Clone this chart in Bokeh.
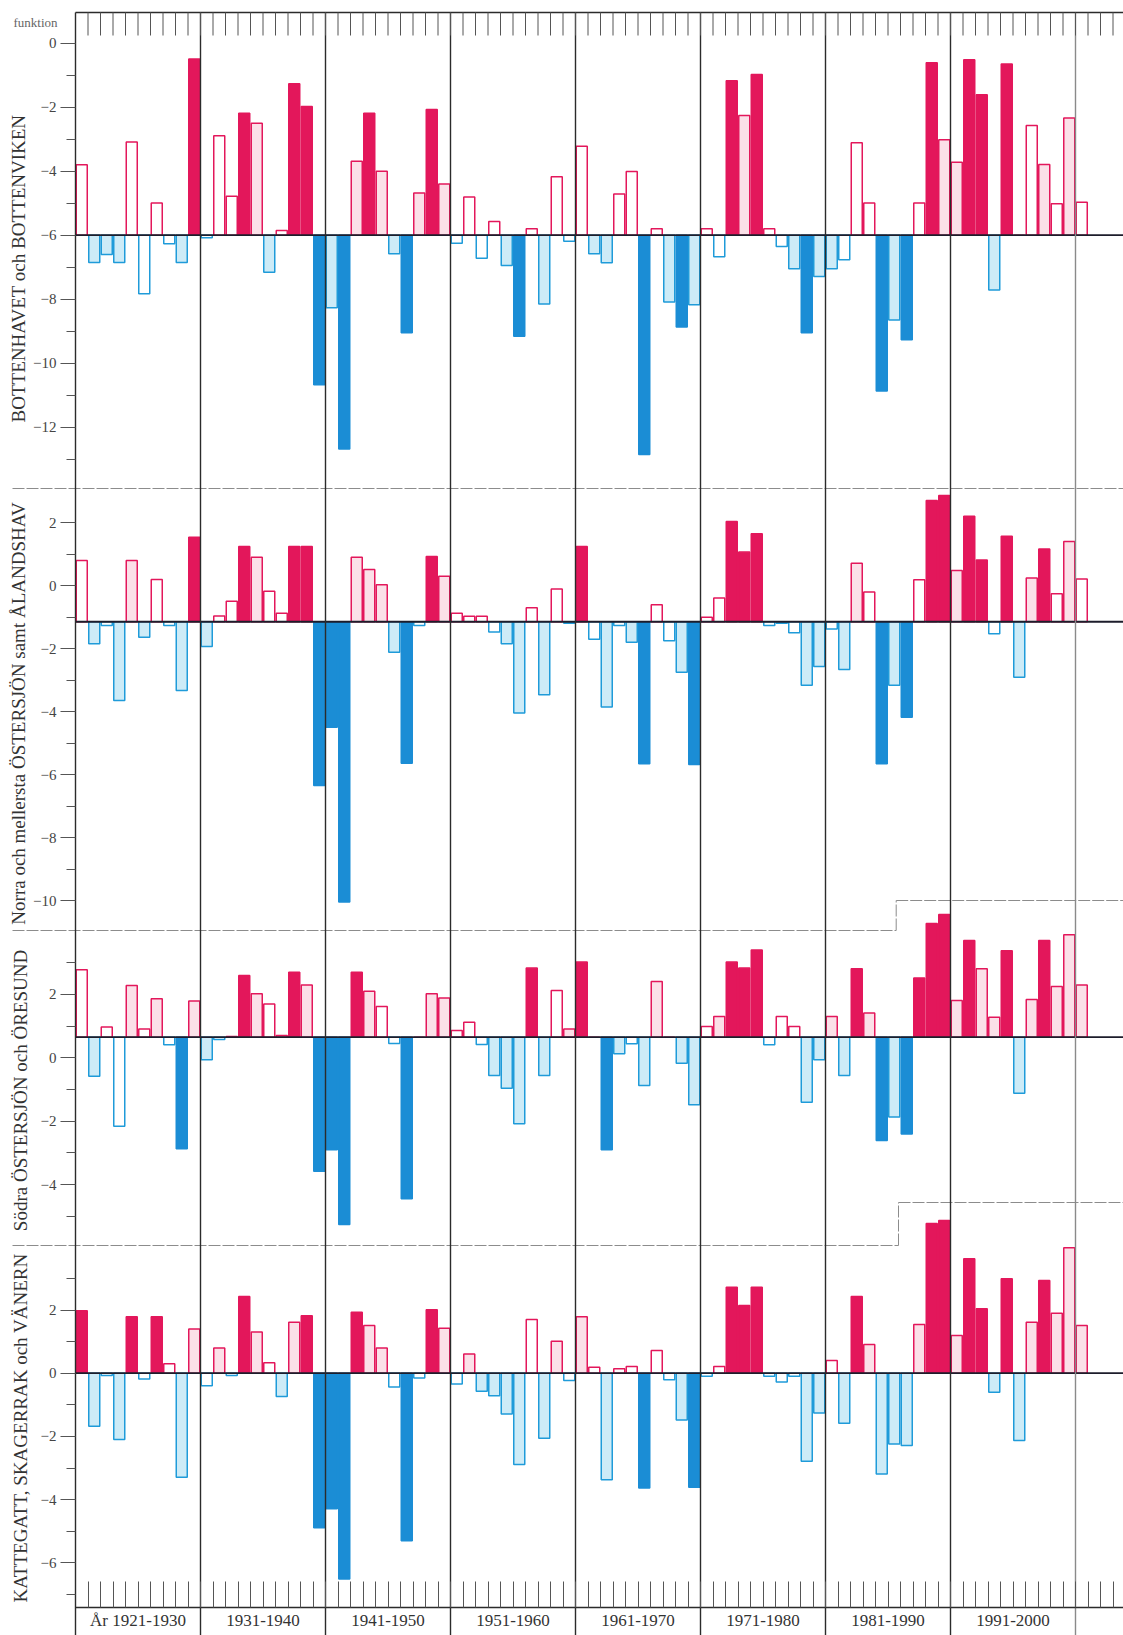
from bokeh.plotting import figure
from bokeh.models import Range1d, LinearAxis, FixedTicker, ColumnDataSource
from bokeh.core.properties import value
from bokeh.embed import file_html
from bokeh.resources import INLINE

# ---------------- data ----------------
YEARS = list(range(1921, 2002))

P1_VALUES = [-3.80, -6.85, -6.60, -6.85, -3.09, -7.83, -4.99, -6.27, -6.85, -0.49,
             -6.08, -2.89, -4.78, -2.19, -2.50, -7.16, -5.85, -1.27, -1.98, -10.67,
             -8.27, -12.68, -3.69, -2.19, -4.00, -6.58, -9.05, -4.68, -2.07, -4.40,
             -6.25, -4.81, -6.72, -5.57, -6.95, -9.16, -5.80, -8.15, -4.17, -6.19,
             -3.22, -6.58, -6.86, -4.71, -4.01, -12.85, -5.80, -8.09, -8.87, -8.17,
             -5.80, -6.67, -1.17, -2.26, -0.98, -5.80, -6.35, -7.05, -9.05, -7.29,
             -7.05, -6.77, -3.11, -4.99, -10.87, -8.65, -9.27, -4.99, -0.61, -3.02,
             -3.72, -0.52, -1.61, -7.71, -0.65, -6.00, -2.57, -3.79, -5.02, -2.34,
             -4.97]
P1_STYLE = ["o", "l", "l", "l", "o", "o", "o", "o", "l", "s",
            "o", "o", "o", "s", "l", "l", "o", "s", "s", "s",
            "l", "s", "l", "s", "l", "l", "s", "l", "s", "l",
            "o", "o", "o", "o", "l", "s", "o", "l", "o", "o",
            "o", "l", "l", "o", "o", "s", "o", "l", "s", "l",
            "o", "o", "s", "l", "s", "o", "o", "l", "s", "l",
            "l", "o", "o", "o", "s", "l", "s", "o", "s", "l",
            "l", "s", "s", "l", "s", "o", "o", "l", "o", "l",
            "o"]

P2_VALUES = [0.79, -1.85, -1.27, -3.65, 0.79, -1.64, 0.19, -1.27, -3.33, 1.53,
             -1.94, -0.97, -0.50, 1.24, 0.90, -0.18, -0.88, 1.24, 1.24, -6.35,
             -4.50, -10.05, 0.90, 0.51, 0.02, -2.12, -5.64, -1.27, 0.92, 0.29,
             -0.88, -0.98, -0.98, -1.48, -1.85, -4.05, -0.71, -3.47, -0.11, -1.20,
             1.24, -1.71, -3.86, -1.27, -1.80, -5.66, -0.61, -1.75, -2.75, -5.68,
             -1.01, -0.40, 2.03, 1.06, 1.64, -1.27, -1.20, -1.50, -3.17, -2.57,
             -1.38, -2.67, 0.71, -0.21, -5.66, -3.17, -4.18, 0.18, 2.70, 2.86,
             0.48, 2.20, 0.81, -1.53, 1.56, -2.91, 0.24, 1.16, -0.26, 1.40,
             0.21]
P2_STYLE = ["o", "l", "o", "l", "l", "l", "o", "o", "l", "s",
            "l", "o", "o", "s", "l", "o", "o", "s", "s", "s",
            "s", "s", "l", "l", "l", "l", "s", "o", "s", "l",
            "o", "o", "o", "o", "l", "l", "o", "l", "o", "o",
            "s", "o", "l", "o", "l", "s", "o", "o", "l", "s",
            "o", "o", "s", "s", "s", "o", "o", "o", "l", "l",
            "o", "l", "l", "o", "s", "l", "s", "o", "s", "s",
            "l", "s", "s", "o", "s", "l", "l", "s", "o", "l",
            "o"]

P3_VALUES = [2.78, -0.58, 0.97, -2.16, 2.28, 0.91, 1.86, 0.41, -2.87, 1.79,
             -0.06, 0.58, 0.67, 2.60, 2.02, 1.70, 0.70, 2.70, 2.30, -3.58,
             -2.90, -5.26, 2.70, 2.10, 1.62, 0.45, -4.45, 0.65, 2.02, 1.89,
             0.86, 1.12, 0.42, -0.56, -0.96, -2.08, 2.83, -0.56, 2.12, 0.91,
             3.02, 0.65, -2.90, 0.13, 0.44, -0.87, 2.41, 0.65, -0.17, -1.48,
             0.99, 1.30, 3.02, 2.83, 3.40, 0.41, 1.30, 0.99, -1.40, -0.06,
             1.30, -0.56, 2.81, 1.41, -2.61, -1.87, -2.40, 2.52, 4.24, 4.52,
             1.81, 3.70, 2.81, 1.28, 3.38, -1.12, 1.84, 3.70, 2.25, 3.88,
             2.30]
P3_STYLE = ["o", "l", "o", "o", "l", "o", "l", "o", "s", "l",
            "l", "o", "o", "s", "l", "o", "o", "s", "l", "s",
            "s", "s", "s", "l", "o", "o", "s", "o", "l", "l",
            "o", "o", "o", "l", "l", "l", "s", "l", "o", "l",
            "s", "o", "s", "l", "o", "l", "l", "o", "l", "l",
            "o", "l", "s", "s", "s", "o", "o", "o", "l", "l",
            "l", "l", "s", "l", "s", "l", "s", "s", "s", "s",
            "l", "s", "l", "l", "s", "l", "l", "s", "l", "l",
            "l"]

P4_VALUES = [1.98, -1.68, -0.07, -2.10, 1.79, -0.18, 1.79, 0.30, -3.29, 1.40,
             -0.40, 0.80, -0.07, 2.43, 1.30, 0.33, -0.74, 1.61, 1.82, -4.89,
             -4.29, -6.51, 1.93, 1.51, 0.80, -0.44, -5.30, -0.15, 2.01, 1.42,
             -0.34, 0.61, -0.57, -0.71, -1.29, -2.89, 1.70, -2.06, 1.01, -0.23,
             1.79, 0.19, -3.37, 0.14, 0.21, -3.63, 0.72, -0.21, -1.48, -3.61,
             -0.10, 0.21, 2.72, 2.14, 2.72, -0.10, -0.28, -0.10, -2.79, -1.26,
             0.40, -1.58, 2.43, 0.91, -3.19, -2.24, -2.29, 1.54, 4.74, 4.83,
             1.19, 3.62, 2.04, -0.60, 2.99, -2.13, 1.61, 2.93, 1.90, 3.97,
             1.51]
P4_STYLE = ["s", "l", "o", "l", "s", "o", "s", "o", "l", "l",
            "o", "l", "o", "s", "l", "o", "l", "l", "s", "s",
            "s", "s", "s", "l", "l", "o", "s", "o", "s", "l",
            "o", "l", "l", "l", "l", "l", "o", "l", "l", "o",
            "l", "o", "l", "o", "o", "s", "o", "o", "l", "s",
            "o", "o", "s", "s", "s", "o", "o", "o", "l", "l",
            "o", "l", "s", "l", "l", "l", "l", "l", "s", "s",
            "l", "s", "s", "l", "s", "l", "l", "s", "l", "l",
            "l"]

BASELINES = [-6.0, -1.15, 0.65, 0.0]
PANEL_TITLES = ["BOTTENHAVET och BOTTENVIKEN",
                "Norra och mellersta ÖSTERSJÖN samt ÅLANDSHAV",
                "Södra ÖSTERSJÖN och ÖRESUND",
                "KATTEGATT, SKAGERRAK och VÄNERN"]
MAJOR_TICKS = [[-12, -10, -8, -6, -4, -2, 0],
               [-10, -8, -6, -4, -2, 0, 2],
               [-4, -2, 0, 2],
               [-6, -4, -2, 0, 2]]
MINOR_TICKS = [[-13, -11, -9, -7, -5, -3, -1],
               [-9, -7, -5, -3, -1, 1],
               [-5, -3, -1, 1, 3],
               [-7, -5, -3, -1, 1, 3]]
DECADE_LABELS = ["År 1921-1930", "1931-1940", "1941-1950", "1951-1960", "1961-1970",
                 "1971-1980", "1981-1990", "1991-2000"]
CORNER_TEXT = "funktion"

# ---------------- layout (pixel geometry of the page) ----------------
W, H = 1123, 1635
PX_PER_YEAR = 12.5
X0 = 1921 - 81.25 / PX_PER_YEAR          # x value at the left page edge
X1 = X0 + W / PX_PER_YEAR
LEFT = 1920.5                              # left axis / first decade line


def xd(px):
    return X0 + px / PX_PER_YEAR


ZERO_PX = [42.7, 585.0, 1057.3, 1372.7]    # pixel row of value 0 in each panel
PPU = [32.0, 31.5, 31.7, 31.6]             # pixels per unit in each panel
BOUNDS = [(-14.08, 0.0), (-10.12, 2.0), (-5.06, 3.0), (-7.0, 3.54)]
LABEL_STANDOFF = [1, 1, 7, 7]

RED = "#e3175b"
RED_LIGHT = "#fbe0e8"
BLUE = "#1b8dd5"
BLUE_LINE = "#1f9bd9"
BLUE_LIGHT = "#cdebf7"
INK = "#2b2b2b"
SERIF = "Liberation Serif"

p = figure(width=W, height=H, x_range=Range1d(X0, X1), y_range=Range1d(H, 0),
           output_backend="svg", toolbar_location=None, min_border=0,
           x_axis_type=None, y_axis_type=None, outline_line_color=None,
           background_fill_color="white", border_fill_color="white")

panels = [(P1_VALUES, P1_STYLE), (P2_VALUES, P2_STYLE),
          (P3_VALUES, P3_STYLE), (P4_VALUES, P4_STYLE)]

# panel frames (thin gray separators, with steps)
sep_x0 = [xd(12), xd(12), xd(895.7), xd(895.7), xd(12), xd(898), xd(898)]
sep_x1 = [xd(W), xd(895.7), xd(895.7), xd(W), xd(898), xd(898), xd(W)]
sep_y0 = [488, 930, 930, 900, 1245, 1245, 1202]
sep_y1 = [488, 930, 900, 900, 1245, 1202, 1202]
p.segment(x0=sep_x0, y0=sep_y0, x1=sep_x1, y1=sep_y1, line_color="#8c8c8c",
          line_width=1, line_dash="12 2")

for k, (vals, styles) in enumerate(panels):
    name = f"p{k + 1}"
    p.extra_y_ranges[name] = Range1d((ZERO_PX[k] - H) / PPU[k], ZERO_PX[k] / PPU[k])
    base = BASELINES[k]
    fills, lines = [], []
    for v, s in zip(vals, styles):
        warm = v >= base
        if s == "s":
            fills.append(RED if warm else BLUE)
        elif s == "l":
            fills.append(RED_LIGHT if warm else BLUE_LIGHT)
        else:
            fills.append("white")
        lines.append(RED if warm else (BLUE if s == "s" else BLUE_LINE))
    src = ColumnDataSource(dict(x=YEARS, top=vals, bottom=[base] * len(vals),
                                fill=fills, line=lines))
    p.vbar(x="x", width=0.88, top="top", bottom="bottom", fill_color="fill",
           line_color="line", line_width=1.5, source=src, y_range_name=name)
    # baseline
    p.segment(x0=[LEFT], x1=[X1], y0=[base], y1=[base], line_color="#1d1d2b",
              line_width=1.8, y_range_name=name)

    ax = LinearAxis(y_range_name=name, fixed_location=LEFT, bounds=BOUNDS[k],
                    ticker=FixedTicker(ticks=MAJOR_TICKS[k], minor_ticks=MINOR_TICKS[k]),
                    axis_line_color=None,
                    major_tick_in=0, major_tick_out=15, minor_tick_in=0, minor_tick_out=9,
                    major_tick_line_color="#555", minor_tick_line_color="#555",
                    major_label_text_font=SERIF, major_label_text_font_size="15px",
                    major_label_text_color="#444", major_label_standoff=4,
                    axis_label=PANEL_TITLES[k], axis_label_text_font=SERIF,
                    axis_label_text_font_size="19px", axis_label_text_font_style="normal",
                    axis_label_text_color="#333", axis_label_standoff=LABEL_STANDOFF[k])
    p.add_layout(ax, "left")

# decade lines (full height) and top border with year ticks
dec_x = [LEFT + 10 * i for i in range(9)]
dec_col = [INK] * 8 + ["#8a8a8a"]
p.segment(x0=dec_x, x1=dec_x, y0=[12] * 9, y1=[H] * 9, line_color=dec_col, line_width=1.4)
p.segment(x0=[LEFT], x1=[X1], y0=[12], y1=[12], line_color=INK, line_width=1.4)
year_edges = [LEFT + i for i in range(1, 84)]
p.segment(x0=year_edges, x1=year_edges, y0=[12] * len(year_edges),
          y1=[35] * len(year_edges), line_color="#555", line_width=1)

# bottom year axis with decade labels
bottom = LinearAxis(fixed_location=1607, bounds=(LEFT, X1),
                    ticker=FixedTicker(ticks=[LEFT + 5 + 10 * i for i in range(8)],
                                       minor_ticks=year_edges),
                    major_label_overrides={LEFT + 5 + 10 * i: lab
                                           for i, lab in enumerate(DECADE_LABELS)},
                    axis_line_color=INK, axis_line_width=1.4,
                    major_tick_in=0, major_tick_out=0,
                    minor_tick_in=26, minor_tick_out=0, minor_tick_line_color="#555",
                    major_label_text_font=SERIF, major_label_text_font_size="17px",
                    major_label_text_color="#333", major_label_standoff=3)
p.add_layout(bottom, "below")

p.text(x=[xd(13)], y=[22], text=[CORNER_TEXT], text_font=value(SERIF),
       text_font_size="13px", text_color="#666", text_baseline="middle")

open("out.html", "w").write(file_html(p, INLINE))
